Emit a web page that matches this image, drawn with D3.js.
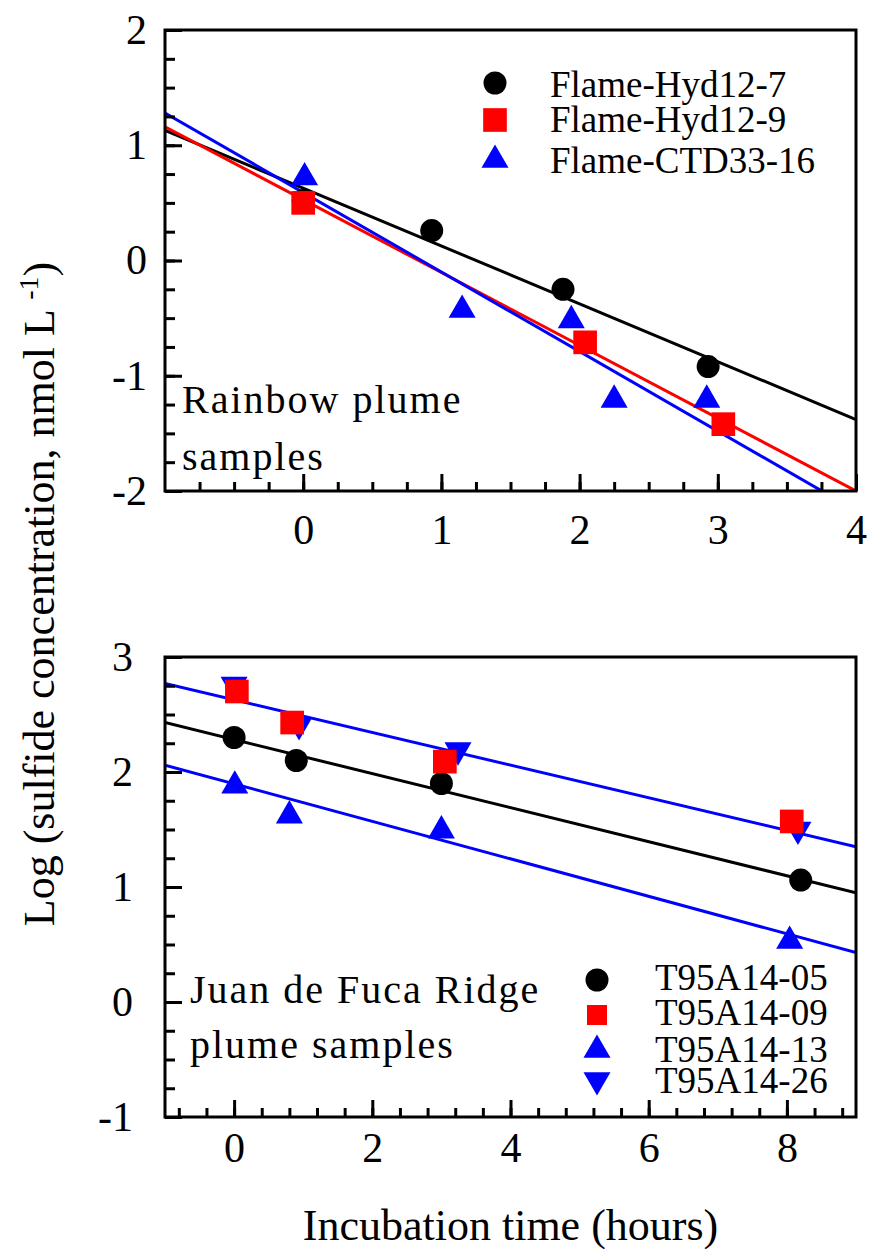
<!DOCTYPE html>
<html>
<head>
<meta charset="utf-8">
<script src="https://cdn.jsdelivr.net/npm/d3@7"></script>
<style>
  body { margin: 0; background: #fff; }
  svg text { font-family: "Liberation Serif", "Times New Roman", serif; }
</style>
</head>
<body>
<div id="chart"></div>
<script>
// ---- Rainbow plume samples (top panel) ----
const rainbowNames = ['Flame-Hyd12-7', 'Flame-Hyd12-9', 'Flame-CTD33-16'];
const hyd7Time = [0, 0.93, 1.88, 2.93];
const hyd7Log = [0.52, 0.26, -0.25, -0.92];
const hyd9Time = [0, 2.04, 3.04];
const hyd9Log = [0.50, -0.71, -1.42];
const ctd16Time = [0.01, 1.15, 1.94, 2.25, 2.92];
const ctd16Log = [0.72, -0.43, -0.52, -1.21, -1.21];
// fitted lines: value at start and end time
const rainbowFitT = [-1, 4];
const hyd7Fit = [1.13, -1.38];
const hyd9Fit = [1.16, -2.0];
const ctd16Fit = [1.28, -2.17];

// ---- Juan de Fuca Ridge plume samples (bottom panel) ----
const jdfNames = ['T95A14-05', 'T95A14-09', 'T95A14-13', 'T95A14-26'];
const s05Time = [0, 0.9, 3.0, 8.2];
const s05Log = [2.30, 2.10, 1.90, 1.06];
const s09Time = [0.04, 0.84, 3.05, 8.07];
const s09Log = [2.70, 2.43, 2.09, 1.57];
const s13Time = [0.01, 0.8, 3.0, 8.04];
const s13Log = [1.88, 1.62, 1.49, 0.53];
const s26Time = [0.0, 0.94, 3.24, 8.16];
const s26Log = [2.76, 2.41, 2.19, 1.50];
const jdfFitT = [-1, 9];
const s05Fit = [2.43, 0.95];
const s13Fit = [2.06, 0.43];
const s26Fit = [2.77, 1.35];

const svgWidth = 869, svgHeight = 1249;
const serif = '"Liberation Serif", "Times New Roman", serif';
const svg = d3.select('#chart').append('svg')
    .attr('width', svgWidth)
    .attr('height', svgHeight)
    .attr('font-family', serif);

const left = 165, right = 856;
const tickFmt = d => String(d);

// shape helpers
const circle = d3.symbol().type(d3.symbolCircle).size(415);
const square = d3.symbol().type(d3.symbolSquare).size(560);
const triangle = d3.symbol().type(d3.symbolTriangle).size(316);

function zip(t, v) { return t.map((d, i) => ({ t: d, v: v[i] })); }

function drawPanel(opt) {
    const x = d3.scaleLinear().domain(opt.xDomain).range([left, right]);
    const y = d3.scaleLinear().domain(opt.yDomain).range([opt.bottom, opt.top]);
    const g = svg.append('g');

    g.append('clipPath').attr('id', opt.id)
        .append('rect')
        .attr('x', left).attr('y', opt.top)
        .attr('width', right - left).attr('height', opt.bottom - opt.top);

    // fit lines
    opt.fits.forEach(f => {
        g.append('path')
            .datum(zip(opt.fitT, f.v))
            .attr('clip-path', `url(#${opt.id})`)
            .attr('fill', 'none')
            .attr('stroke', f.color)
            .attr('stroke-width', 3)
            .attr('d', d3.line().x(d => x(d.t)).y(d => y(d.v)));
    });

    // markers
    opt.series.forEach(s => {
        g.selectAll(null)
            .data(zip(s.t, s.v))
            .enter()
            .append('path')
            .attr('d', s.shape)
            .attr('fill', s.color)
            .attr('transform', d => `translate(${x(d.t)},${y(d.v)}) rotate(${s.rot})`);
    });

    // frame
    g.append('rect')
        .attr('x', left).attr('y', opt.top)
        .attr('width', right - left).attr('height', opt.bottom - opt.top)
        .attr('fill', 'none').attr('stroke', '#000').attr('stroke-width', 3);

    // minor ticks
    g.append('g')
        .attr('transform', `translate(0,${opt.bottom})`)
        .call(d3.axisBottom(x).tickValues(opt.xMinor).tickSize(-9).tickFormat(''))
        .call(a => a.select('.domain').remove());
    g.append('g')
        .attr('transform', `translate(${left},0)`)
        .call(d3.axisLeft(y).tickValues(opt.yMinor).tickSize(-10).tickFormat(''))
        .call(a => a.select('.domain').remove());

    // major ticks + labels
    g.append('g')
        .attr('transform', `translate(0,${opt.bottom})`)
        .call(d3.axisBottom(x).tickValues(opt.xTicks).tickSize(-17).tickPadding(opt.xPad).tickFormat(tickFmt))
        .call(a => a.select('.domain').remove());
    g.append('g')
        .attr('transform', `translate(${left},0)`)
        .call(d3.axisLeft(y).tickValues(opt.yTicks).tickSize(-17).tickPadding(opt.yPad).tickFormat(tickFmt))
        .call(a => a.select('.domain').remove());

    g.selectAll('g').attr('font-family', serif).attr('font-size', 42);
    g.selectAll('.tick line').attr('stroke-width', 3);
    g.selectAll('.tick text').attr('fill', '#000');

    // annotation
    opt.note.forEach((line, i) => {
        g.append('text')
            .attr('x', opt.noteX)
            .attr('y', opt.noteY[i])
            .attr('font-size', 40)
            .attr('letter-spacing', 2)
            .text(line);
    });

    // legend
    opt.series.forEach((s, i) => {
        g.append('path')
            .attr('d', s.legShape || s.shape)
            .attr('fill', s.color)
            .attr('transform', `translate(${opt.legX},${opt.legY[i]}) rotate(${s.rot})`);
        g.append('text')
            .attr('x', opt.legTextX)
            .attr('y', opt.legTextY[i])
            .attr('font-size', 37)
            .text(s.name);
    });
}

drawPanel({
    id: 'clipTop',
    top: 30, bottom: 491,
    xDomain: [-1, 4], yDomain: [-2, 2],
    xTicks: [0, 1, 2, 3, 4], yTicks: [-2, -1, 0, 1, 2],
    xMinor: d3.range(-0.75, 4, 0.25), yMinor: d3.range(-1.75, 2, 0.25),
    xPad: 23, yPad: 18,
    fitT: rainbowFitT,
    fits: [
        { v: hyd7Fit, color: '#000' },
        { v: hyd9Fit, color: '#ff0000' },
        { v: ctd16Fit, color: '#0000ff' }
    ],
    series: [
        { name: rainbowNames[0], t: hyd7Time, v: hyd7Log, shape: circle, color: '#000', rot: 0 },
        { name: rainbowNames[1], t: hyd9Time, v: hyd9Log, shape: square, color: '#ff0000', rot: 0 },
        { name: rainbowNames[2], t: ctd16Time, v: ctd16Log, shape: triangle, color: '#0000ff', rot: 0 }
    ],
    legX: 495, legY: [83, 120, 160], legTextX: 550, legTextY: [97, 132, 173],
    note: ['Rainbow plume', 'samples'], noteX: 182, noteY: [413, 470]
});

drawPanel({
    id: 'clipBottom',
    top: 657, bottom: 1117,
    xDomain: [-1, 9], yDomain: [-1, 3],
    xTicks: [0, 2, 4, 6, 8], yTicks: [-1, 0, 1, 2, 3],
    xMinor: d3.range(-0.8, 9, 0.4), yMinor: d3.range(-0.75, 3, 0.25),
    xPad: 15, yPad: 32,
    fitT: jdfFitT,
    fits: [
        { v: s05Fit, color: '#000' },
        { v: s13Fit, color: '#0000ff' },
        { v: s26Fit, color: '#0000ff' }
    ],
    series: [
        { name: jdfNames[0], t: s05Time, v: s05Log, shape: circle, color: '#000', rot: 0 },
        { name: jdfNames[3], t: s26Time, v: s26Log, shape: triangle, color: '#0000ff', rot: 180 },
        { name: jdfNames[1], t: s09Time, v: s09Log, shape: square, legShape: d3.symbol().type(d3.symbolSquare).size(400), color: '#ff0000', rot: 0 },
        { name: jdfNames[2], t: s13Time, v: s13Log, shape: triangle, color: '#0000ff', rot: 0 }
    ],
    legX: 597, legY: [980, 1080, 1015, 1050], legTextX: 655, legTextY: [990, 1093, 1025, 1062],
    note: ['Juan de Fuca Ridge', 'plume samples'], noteX: 190, noteY: [1003, 1058]
});

// axis titles
svg.append('text')
    .attr('x', (left + right) / 2)
    .attr('y', 1240)
    .attr('text-anchor', 'middle')
    .attr('font-size', 44)
    .text('Incubation time (hours)');

const yTitle = svg.append('text')
    .attr('transform', 'translate(54,594) rotate(-90)')
    .attr('text-anchor', 'middle')
    .attr('font-size', 44);
yTitle.append('tspan').text('Log (sulfide concentration, nmol L ');
yTitle.append('tspan').attr('font-size', 28).attr('dy', -16).text('-1');
yTitle.append('tspan').attr('dy', 16).text(')');
</script>
</body>
</html>
